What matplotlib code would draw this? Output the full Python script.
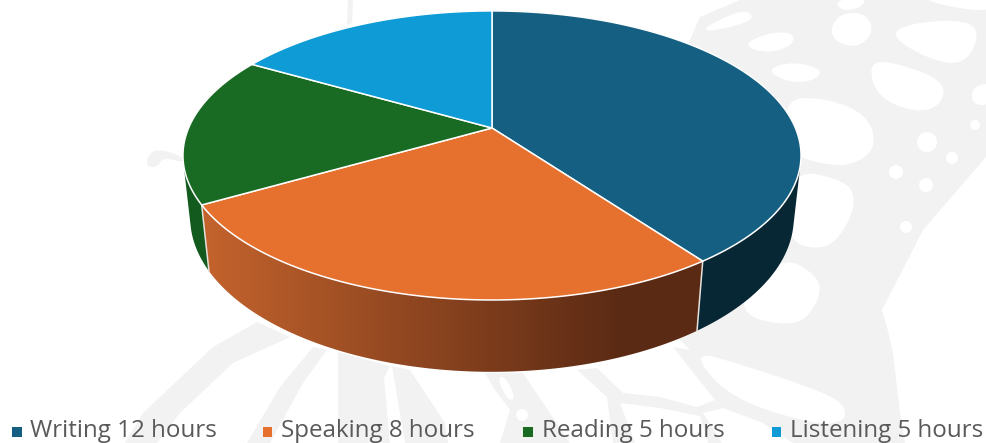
import numpy as np
import matplotlib
matplotlib.use("Agg")
import matplotlib.pyplot as plt
from matplotlib.colors import to_rgb
from matplotlib.patches import Polygon, PathPatch
from matplotlib.path import Path

categories = ["Writing", "Speaking", "Reading", "Listening"]
hours = [12, 8, 5, 5]
legend_labels = ["Writing 12 hours", "Speaking 8 hours", "Reading 5 hours", "Listening 5 hours"]
top_colors = ["#156082", "#E6712F", "#196B24", "#0F9BD5"]
side_colors = ["#082735", "#5B2A14", "#125A1E", "#0A6E96"]

CX, CY = 492, 128
A_T, B_T, K_T = 303.4, 139.3, 0.19
BY = 189
A_B, B_B, K_B = 296.6, 149.0, 0.185


def rim(theta, level):
    u, v = np.sin(theta), np.cos(theta)
    if level == "top":
        d = 1 + K_T * v
        return CX + A_T * u / d, CY - B_T * v / d
    d = 1 + K_B * v
    return CX + A_B * u / d, BY - B_B * v / d


def hull(pts):
    pts = sorted(map(tuple, pts))
    def half(seq):
        out = []
        for p in seq:
            while len(out) > 1 and ((out[-1][0]-out[-2][0])*(p[1]-out[-2][1]) -
                                    (out[-1][1]-out[-2][1])*(p[0]-out[-2][0])) <= 0:
                out.pop()
            out.append(p)
        return out[:-1]
    return np.array(half(pts) + half(pts[::-1]))


fig = plt.figure(figsize=(9.86, 4.43), dpi=100)
ax = fig.add_axes([0, 0, 1, 1])
ax.set_xlim(0, 986); ax.set_ylim(443, 0); ax.axis("off")

# faint butterfly watermark
GR = "#F2F2F2"


def blob(pts, color="white", z=2):
    pts = np.array(pts, float)
    n = len(pts)
    mids = [(pts[i] + pts[(i + 1) % n]) / 2 for i in range(n)]
    verts, codes = [mids[-1]], [Path.MOVETO]
    for i in range(n):
        verts += [pts[i], mids[i]]
        codes += [Path.CURVE3, Path.CURVE3]
    ax.add_patch(PathPatch(Path(verts, codes), fc=color, ec="none", zorder=z))


wing = [(700,17),(740,0),(986,0),(986,157),(923,230),(882,310),(887,327),(893,353),(900,413),(905,443),
        (793,443),(763,423),(723,408),(703,413),(728,397),(690,350),(640,300),(620,200)]
ax.add_patch(Polygon(wing, fc=GR, ec="none", zorder=1))
cells = [
    [(703,28),(740,10),(753,14),(750,22),(710,32)],
    [(742,45),(767,33),(793,32),(794,45),(767,54)],
    [(765,70),(793,61),(824,70),(813,81),(790,83)],
    [(830,27),(843,12),(867,14),(874,33),(857,48),(835,42)],
    [(888,35),(913,22),(972,20),(979,40),(963,65),(930,60)],
    [(868,65),(887,60),(945,80),(942,105),(917,113),(878,98)],
    [(783,98),(827,98),(868,115),(877,148),(853,165),(827,165),(790,155)],
    [(835,3),(847,-2),(867,-2),(860,8),(843,11)],
    [(972,87),(992,82),(992,105),(972,105)],
    [(913,-3),(992,-3),(992,11),(960,9)],
    [(792,170),(837,178),(856,192),(850,222),(827,251),(785,242)],
    [(780,255),(818,275),(821,298),(797,329),(730,312)],
    [(690,350),(743,365),(827,393),(847,408),(842,424),(807,423),(728,397)],
]
for c in cells:
    blob(c)
for x, y, r in [(927,142,10),(952,158,6),(896,172,7),(926,185,7),(906,227,6),(975,125,5)]:
    ax.add_patch(plt.Circle((x, y), r, fc="white", ec="none", zorder=2))
strips = [
    [(257,322),(213,347),(143,413),(125,443),(157,443),(180,413),(233,363),(290,337)],
    [(313,347),(280,387),(247,443),(270,443),(303,383),(327,350)],
    [(338,352),(390,366),(384,378),(390,443),(338,443)],
    [(392,366),(410,370),(445,423),(448,443),(405,443)],
    [(485,373),(523,373),(570,443),(500,443),(510,410),(495,390)],
    [(577,370),(597,368),(623,393),(660,397),(697,407),(715,400),(673,347),(690,350),(728,397),
     (703,413),(722,443),(708,443),(700,416),(660,408),(620,403),(635,443),(613,443),(607,397)],
    [(347,25),(348,0),(353,0),(352,23)],
]
for s in strips:
    ax.add_patch(Polygon(s, fc=GR, ec="none", zorder=3))
blob([(497,378),(505,376),(516,398),(508,401)], "white", 3.2)
ax.add_patch(plt.Circle((522, 415), 6, fc="white", ec="none", zorder=3.2))
blob([(147,157),(157,148),(184,157),(184,163),(163,157),(158,167),(147,167)], GR, 1)

shares = np.array(hours, float) / sum(hours) * 2 * np.pi
edges = np.concatenate([[0], np.cumsum(shares)])


def side_poly(t0, t1):
    th = np.linspace(t0, t1, 120)
    xt, yt = rim(th, "top")
    xb, yb = rim(th, "bot")
    return np.r_[np.c_[xt, yt], np.c_[xb, yb][::-1]]


# side walls: silhouette is the hull of the top and bottom rims
for i in [3, 2, 0]:
    ax.add_patch(Polygon(hull(side_poly(edges[i], edges[i + 1])), fc=side_colors[i], ec="none", zorder=5))

# shaded wall of the large front slice
wall = side_poly(edges[1], edges[2])
xs = np.linspace(wall[:, 0].min(), wall[:, 0].max(), 512)
c0, c1 = np.array(to_rgb("#C4632D")), np.array(to_rgb(side_colors[1]))
t = np.clip((xs - 202) / (620 - 202), 0, 1)[None, :, None]
ramp = (1 - t) * c0 + t * c1
im = ax.imshow(ramp, extent=[xs[0], xs[-1], 400, 200], aspect="auto", zorder=5.1)
clip = Polygon(wall, transform=ax.transData, fc="none", ec="none")
ax.add_patch(clip)
im.set_clip_path(clip)
ax.set_xlim(0, 986); ax.set_ylim(443, 0)

# seams between the walls
for e in (edges[1], edges[2]):
    xt, yt = rim(np.array(e), "top"); xb, yb = rim(np.array(e), "bot")
    ax.plot([xt, xb], [yt, yb], color="#E8E2DC", lw=1.1, zorder=5.5)

# top faces
for i in range(4):
    th = np.linspace(edges[i], edges[i + 1], 160)
    xt, yt = rim(th, "top")
    ax.add_patch(Polygon(np.r_[[[CX, CY]], np.c_[xt, yt]], fc=top_colors[i], ec="white", lw=1.1,
                         joinstyle="round", zorder=6))

# legend
swatch_x = [17, 267.5, 528, 776.5]
text_x = [30, 281, 542, 790.5]
for sx, tx, lab, col in zip(swatch_x, text_x, legend_labels, top_colors):
    ax.add_patch(Polygon([(sx-4.8, 427), (sx+4.8, 427), (sx+4.8, 436.5), (sx-4.8, 436.5)], fc=col, ec="none", zorder=7))
    ax.text(tx, 431, lab, fontsize=17.4, color="#595959", family="Open Sans", va="center", ha="left", zorder=7)

fig.savefig("out.png", dpi=100)
